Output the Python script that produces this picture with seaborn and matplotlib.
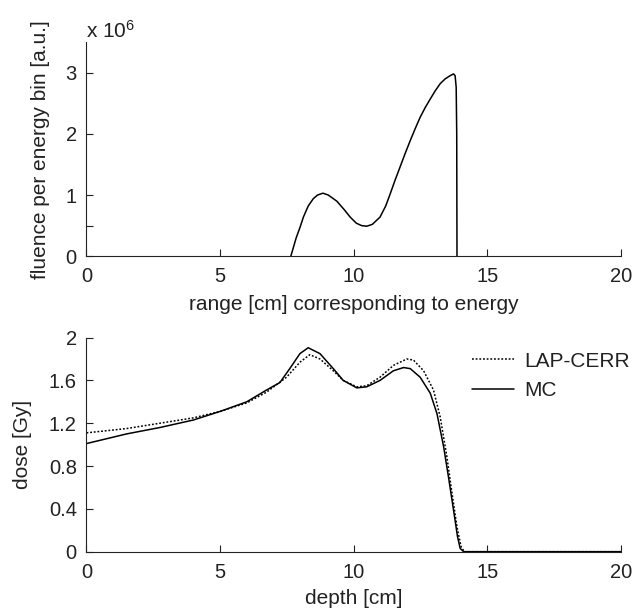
import numpy as np
import pandas as pd
import matplotlib
matplotlib.use("Agg")
import matplotlib.pyplot as plt
import seaborn as sns
from matplotlib.ticker import FixedLocator

# ---- data: top panel (fluence, in units of 1e6) ----
range_cm = [7.65, 7.85, 8.0, 8.12, 8.3, 8.49, 8.65, 8.85, 9.05, 9.37, 9.65, 9.87,
            10.1, 10.3, 10.49, 10.7, 10.99, 11.2, 11.37, 11.55, 11.74, 11.93, 12.12,
            12.3, 12.49, 12.68, 12.87, 13.05, 13.24, 13.43, 13.61, 13.74, 13.80,
            13.84, 13.86, 13.87]
fluence = [0.0, 0.3, 0.48, 0.64, 0.82, 0.94, 1.0, 1.03, 1.0, 0.9, 0.76, 0.64,
           0.54, 0.5, 0.49, 0.52, 0.64, 0.82, 1.02, 1.24, 1.46, 1.68, 1.89,
           2.08, 2.27, 2.43, 2.57, 2.70, 2.82, 2.90, 2.95, 2.98, 2.95,
           2.76, 2.0, 0.0]

# ---- data: bottom panel (dose) ----
mc_depth = [0.0, 1.5, 2.75, 4.0, 5.0, 6.0, 6.74, 7.24, 7.61, 7.99, 8.3, 8.74, 9.24,
            9.61, 10.12, 10.49, 10.99, 11.49, 11.87, 12.12, 12.49, 12.87, 13.12,
            13.37, 13.55, 13.74, 13.89, 13.99, 14.12, 20.0]
mc_dose = [1.01, 1.10, 1.16, 1.23, 1.31, 1.40, 1.51, 1.58, 1.71, 1.85, 1.905, 1.85,
           1.71, 1.60, 1.53, 1.54, 1.60, 1.69, 1.72, 1.71, 1.63, 1.48, 1.29,
           0.98, 0.70, 0.39, 0.14, 0.03, 0.0, 0.0]
lap_depth = [0.0, 1.5, 2.75, 4.0, 5.0, 6.0, 6.74, 7.49, 7.99, 8.36, 8.74, 9.24,
             9.61, 10.12, 10.49, 10.99, 11.49, 11.99, 12.24, 12.62, 12.99, 13.24,
             13.49, 13.67, 13.87, 14.02, 14.14, 20.0]
lap_dose = [1.11, 1.15, 1.20, 1.25, 1.31, 1.39, 1.49, 1.63, 1.77, 1.84, 1.80, 1.69,
            1.60, 1.54, 1.55, 1.63, 1.74, 1.80, 1.79, 1.69, 1.51, 1.26,
            0.89, 0.57, 0.23, 0.05, 0.0, 0.0]

x_ticks = [0, 5, 10, 15, 20]
top_yticks = [0, 1, 2, 3]
bot_yticks = [0, 0.4, 0.8, 1.2, 1.6, 2]
bot_yticklabels = ["0", "0.4", "0.8", "1.2", "1.6", "2"]

sns.set_theme(style="ticks")
plt.rcParams["font.family"] = ["Liberation Sans", "DejaVu Sans"]
plt.rcParams["mathtext.default"] = "regular"
FS = 15
TFS = 14.5
TC = "#222222"

fig = plt.figure(figsize=(6.36, 6.10), dpi=100)
ax1 = fig.add_axes([0.136, 0.580, 0.840, 0.351])
ax2 = fig.add_axes([0.136, 0.0956, 0.840, 0.351])

top_df = pd.DataFrame({"range": range_cm, "fluence": fluence})
sns.lineplot(data=top_df, x="range", y="fluence", ax=ax1, color="black",
             linewidth=1.1, estimator=None, sort=False)

bot_df = pd.concat([
    pd.DataFrame({"depth": lap_depth, "dose": lap_dose, "method": "LAP-CERR"}),
    pd.DataFrame({"depth": mc_depth, "dose": mc_dose, "method": "MC"}),
], ignore_index=True)
sns.lineplot(data=bot_df, x="depth", y="dose", hue="method", style="method",
             palette={"LAP-CERR": "black", "MC": "black"},
             dashes={"LAP-CERR": (1.2, 1.2), "MC": ""},
             hue_order=["LAP-CERR", "MC"], style_order=["LAP-CERR", "MC"],
             ax=ax2, linewidth=1.1, estimator=None, sort=False)

for ax in (ax1, ax2):
    sns.despine(ax=ax)
    for sp in ("left", "bottom"):
        ax.spines[sp].set_linewidth(0.8)
        ax.spines[sp].set_color(TC)
    ax.set_xlim(0, 20)
    ax.set_xticks(x_ticks)
    ax.set_xticklabels([str(t) for t in x_ticks])
    ax.tick_params(axis="both", which="both", direction="in", length=5,
                   width=0.8, colors=TC, labelsize=TFS, labelcolor=TC)
    ax.tick_params(axis="x", pad=8)
    ax.tick_params(axis="y", pad=7)

ax1.set_ylim(0, 3.5)
ax1.set_yticks(top_yticks)
ax1.set_yticklabels([str(t) for t in top_yticks])
ax1.yaxis.set_minor_locator(FixedLocator([0.5]))
ax1.set_xlabel("range [cm] corresponding to energy", fontsize=FS, color=TC, labelpad=6)
ax1.set_ylabel("fluence per energy bin [a.u.]", fontsize=FS, color=TC)
ax1.yaxis.set_label_coords(-0.068, 0.5)
ax1.text(0.0, 1.019, "x 10$^{6}$", transform=ax1.transAxes, fontsize=15,
         color=TC, ha="left", va="baseline")

ax2.set_ylim(0, 2)
ax2.set_yticks(bot_yticks)
ax2.set_yticklabels(bot_yticklabels)
ax2.set_xlabel("depth [cm]", fontsize=FS, color=TC, labelpad=5)
ax2.set_ylabel("dose [Gy]", fontsize=FS, color=TC)
ax2.yaxis.set_label_coords(-0.102, 0.5)

handles, labels = ax2.get_legend_handles_labels()
ax2.legend(handles=handles, labels=labels, loc="center left",
           bbox_to_anchor=(0.742, 0.384), bbox_transform=fig.transFigure,
           frameon=False, fontsize=FS, handlelength=2.0, handletextpad=0.5,
           labelspacing=0.5, borderpad=0, borderaxespad=0, labelcolor=TC)

fig.savefig("out.png", dpi=100)
